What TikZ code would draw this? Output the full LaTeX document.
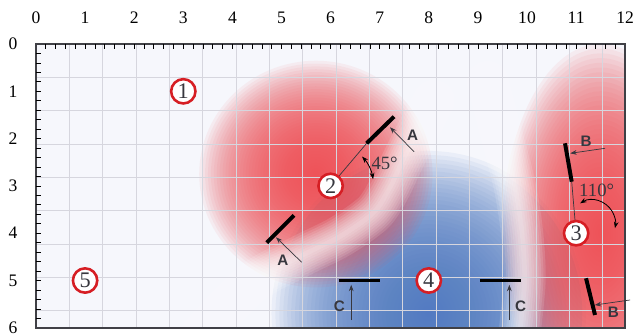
\documentclass[tikz,border=0pt]{standalone}
\usepackage{fontspec}
\setmainfont{Liberation Serif}
\setsansfont{Liberation Sans}
\usepackage{tikz}
\usetikzlibrary{positioning, arrows.meta, calc}

\definecolor{ringred}{RGB}{214,30,36}
\definecolor{blobred}{RGB}{238,78,84}
\definecolor{blobblue}{RGB}{78,122,194}
\definecolor{plotbg}{RGB}{246,247,252}
\definecolor{inkgray}{RGB}{55,55,62}
\definecolor{gridgray}{RGB}{214,214,222}
\definecolor{framegray}{RGB}{64,64,70}

\begin{document}
\begin{tikzpicture}[
      x=1.473cm, y=-1.419cm,
      spot/.style={
        circle,
        draw=ringred,
        line width=2.2pt,
        fill=white,
        minimum size=0.73cm,
        inner sep=0pt,
        text=inkgray,
        font=\fontsize{19}{19}\selectfont
      },
      axisnum/.style={
        font=\fontsize{15}{15}\selectfont
      },
      plate/.style={
        line width=3.4pt
      },
      stem/.style={
        inkgray,
        line width=0.6pt
      },
      arrow/.style={
        -{Stealth[length=5.5pt, width=4pt]},
        inkgray,
        line width=0.6pt
      },
      twoway/.style={
        {Stealth[length=5.5pt, width=4pt]}-{Stealth[length=5.5pt, width=4pt]},
        black,
        line width=0.7pt
      },
      lettertag/.style={
        font=\sffamily\bfseries\fontsize{13}{13}\selectfont,
        text=inkgray,
        inner sep=1pt
      },
      anglelabel/.style={
        font=\fontsize{16}{16}\selectfont,
        text=inkgray,
        inner sep=1pt
      },
      softband/.style={
        white,
        line cap=round,
        line join=round,
        opacity=0.12
      }
    ]

    \useasboundingbox (-0.733,-0.93) rectangle (12.24,6.173);

    % shaded field
    \begin{scope}
      \clip (0,0) rectangle (12,6);
      \fill[plotbg] (0,0) rectangle (12,6);
      \foreach \k in {1,...,40}
        \fill[blobblue, opacity=0.065] (8.0,5.7) ellipse [x radius=\k*0.118cm, y radius=\k*0.122cm];
      \foreach \k in {1,...,40}
        \fill[blobred, opacity=0.065] (5.7,2.75) ellipse [x radius=\k*0.0875cm, y radius=\k*0.085cm];
      \foreach \k in {1,...,40}
        \fill[blobred, opacity=0.065] (11.5,4.0) ellipse [x radius=\k*0.074cm, y radius=\k*0.142cm];
      \foreach \w in {4,8,...,36} {
        \draw[softband, line width=\w pt] plot[smooth] coordinates {(3.4,6.1) (4.4,5.05) (5.38,4.49) (6.19,4.07) (6.87,3.57) (7.2,3.05) (7.41,2.59) (7.68,2.03) (8.1,1.2)};
        \draw[softband, line width=\w pt] plot[smooth] coordinates {(9.2,0.8) (9.5,2.0) (9.75,3.0) (9.9,4.0) (9.95,5.0) (9.85,6.1)};
      }
      \draw[gridgray, line width=0.5pt] (0,0) grid (12,6);
    \end{scope}

    \draw[framegray, line width=1.5pt] (0,0) rectangle (12,6);
    \foreach \k in {1,...,59}
      \draw[black, line width=0.6pt] (\k/5,0) -- ++(0,0.11);
    \foreach \k in {1,...,29}
      \draw[black, line width=0.6pt] (0,\k/5) -- ++(0.1,0);

    \foreach \i in {0,...,12}
      \node[axisnum] (xnum\i) at (\i,-0.55) {\i};
    \foreach \j in {0,...,6}
      \node[axisnum] (ynum\j) at (-0.47,\j) {\j};

    \coordinate (a1s) at (6.735,2.099);
    \coordinate (a1e) at (7.291,1.537);
    \coordinate (a1tail) at (7.70,2.277);
    \coordinate (a1head) at (7.21,1.761);
    \coordinate (a2s) at (4.699,4.201);
    \coordinate (a2e) at (5.255,3.622);
    \coordinate (a2tail) at (5.411,4.615);
    \coordinate (a2head) at (4.888,4.087);
    \coordinate (b1s) at (10.774,2.099);
    \coordinate (b1e) at (10.910,2.911);
    \coordinate (b1tail) at (11.589,2.205);
    \coordinate (b1head) at (10.88,2.311);
    \coordinate (b2s) at (11.202,4.953);
    \coordinate (b2e) at (11.385,5.729);
    \coordinate (b2tail) at (12.098,5.412);
    \coordinate (b2head) at (11.38,5.518);
    \coordinate (c1s) at (6.17,5);
    \coordinate (c1e) at (7.0,5);
    \coordinate (c1tail) at (6.42,5.835);
    \coordinate (c1head) at (6.42,5.09);
    \coordinate (c2s) at (9.04,5);
    \coordinate (c2e) at (9.88,5);
    \coordinate (c2tail) at (9.64,5.835);
    \coordinate (c2head) at (9.64,5.09);
    \coordinate (arc3c) at (11.326,3.791);

    \node[spot] (s1) at (3,1) {1};
    \node[spot] (s2) at (6,3) {2};
    \node[spot] (s3) at (11,4) {3};
    \node[spot] (s4) at (8,5) {4};
    \node[spot] (s5) at (1,5) {5};

    \draw[stem] (s2) -- (a1s);
    \draw[stem] (s3) -- (b1e);

    \draw[plate] (a1s) -- (a1e);
    \draw[plate] (a2s) -- (a2e);
    \draw[plate] (b1s) -- (b1e);
    \draw[plate] (b2s) -- (b2e);
    \draw[plate] (c1s) -- (c1e);
    \draw[plate] (c2s) -- (c2e);

    \draw[arrow] (a1tail) -- (a1head);
    \draw[arrow] (a2tail) -- (a2head);
    \draw[arrow] (b1tail) -- (b1head);
    \draw[arrow] (b2tail) -- (b2head);
    \draw[arrow] (c1tail) -- (c1head);
    \draw[arrow] (c2tail) -- (c2head);

    \node[lettertag] (a1lbl) at (7.67,1.92) {A};
    \node[lettertag] (a2lbl) at (5.03,4.567) {A};
    \node[lettertag] (b1lbl) at (11.202,2.066) {B};
    \node[lettertag] (b2lbl) at (11.758,5.681) {B};
    \node[lettertag] (c1lbl) at (6.177,5.539) {C};
    \node[lettertag] (c2lbl) at (9.872,5.539) {C};

    \draw[twoway] ($(s2.center)+(43:1.29cm)$) arc[start angle=43, end angle=9, radius=1.29cm];
    \node[anglelabel] (ang2) at (7.1,2.52) {45°};

    \draw[twoway] ($(arc3c)+(121:0.70cm)$) arc[start angle=121, end angle=-12, radius=0.70cm];
    \node[anglelabel] (ang3) at (11.419,3.087) {110°};

    \end{tikzpicture}
\end{document}
